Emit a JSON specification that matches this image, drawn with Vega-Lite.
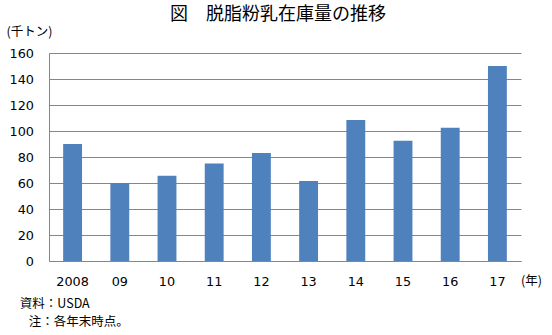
{
  "$schema": "https://vega.github.io/schema/vega-lite/v6.json",
  "width": 472,
  "height": 208,
  "autosize": "none",
  "padding": {"left": 49, "top": 53, "right": 31, "bottom": 74},
  "background": "white",
  "title": {
    "text": "図　脱脂粉乳在庫量の推移",
    "font": "Noto Sans CJK JP",
    "fontSize": 18,
    "fontWeight": "normal",
    "color": "#000000",
    "anchor": "middle",
    "frame": "group",
    "dx": -7,
    "offset": 2
  },
  "config": {"view": {"stroke": null}},
  "data": {
    "values": [
      {"year": "2008", "value": 90},
      {"year": "09", "value": 60},
      {"year": "10", "value": 65.5},
      {"year": "11", "value": 75},
      {"year": "12", "value": 83},
      {"year": "13", "value": 61.5},
      {"year": "14", "value": 108.5},
      {"year": "15", "value": 92.5},
      {"year": "16", "value": 102.5},
      {"year": "17", "value": 150}
    ]
  },
  "layer": [
    {
      "mark": {"type": "bar", "color": "#4F81BD"},
      "encoding": {
        "x": {
          "field": "year",
          "type": "ordinal",
          "sort": null,
          "scale": {"paddingInner": 0.6, "paddingOuter": 0.3},
          "axis": {
            "orient": "bottom",
            "labelAngle": 0,
            "labelFont": "DejaVu Sans",
            "labelFontSize": 12.8,
            "labelColor": "#000000",
            "labelPadding": 14,
            "ticks": false,
            "grid": false,
            "domainColor": "#868686",
            "domainWidth": 1,
            "title": "(年)",
            "titleFont": "Noto Sans CJK JP",
            "titleFontSize": 12.5,
            "titleFontWeight": "normal",
            "titleColor": "#000000",
            "titleAngle": 0,
            "titleAlign": "center",
            "titleBaseline": "middle",
            "titleX": 482,
            "titleY": 19.5
          }
        },
        "y": {
          "field": "value",
          "type": "quantitative",
          "scale": {"domain": [0, 160], "nice": false},
          "axis": {
            "values": [0, 20, 40, 60, 80, 100, 120, 140, 160],
            "grid": true,
            "gridColor": "#868686",
            "gridWidth": 1,
            "domainColor": "#868686",
            "ticks": false,
            "labelFont": "DejaVu Sans",
            "labelFontSize": 12.8,
            "labelColor": "#000000",
            "labelPadding": 15.5,
            "title": "(千トン)",
            "titleFont": "Noto Sans CJK JP",
            "titleFontSize": 12.5,
            "titleFontWeight": "normal",
            "titleColor": "#000000",
            "titleAngle": 0,
            "titleAlign": "center",
            "titleBaseline": "middle",
            "titleX": -20,
            "titleY": -21.5
          }
        }
      }
    },
    {
      "mark": {"type": "bar", "opacity": 0},
      "encoding": {
        "x": {
          "field": "year",
          "type": "ordinal",
          "sort": null,
          "axis": {
            "orient": "top",
            "labels": false,
            "ticks": false,
            "domain": false,
            "grid": false,
            "title": "資料：USDA",
            "titleFont": "Noto Sans CJK JP",
            "titleFontSize": 12.5,
            "titleFontWeight": "normal",
            "titleColor": "#000000",
            "titleAngle": 0,
            "titleAlign": "left",
            "titleBaseline": "middle",
            "titleX": -29.7,
            "titleY": 250.3
          }
        },
        "y": {
          "field": "value",
          "type": "quantitative",
          "scale": {"domain": [0, 160], "nice": false},
          "axis": {
            "orient": "right",
            "labels": false,
            "ticks": false,
            "domain": false,
            "grid": false,
            "title": "注：各年末時点。",
            "titleFont": "Noto Sans CJK JP",
            "titleFontSize": 12.5,
            "titleFontWeight": "normal",
            "titleColor": "#000000",
            "titleAngle": 0,
            "titleAlign": "left",
            "titleBaseline": "middle",
            "titleX": -492.7,
            "titleY": 268.7
          }
        }
      }
    }
  ],
  "resolve": {"scale": {"x": "independent", "y": "independent"}, "axis": {"x": "independent", "y": "independent"}}
}
